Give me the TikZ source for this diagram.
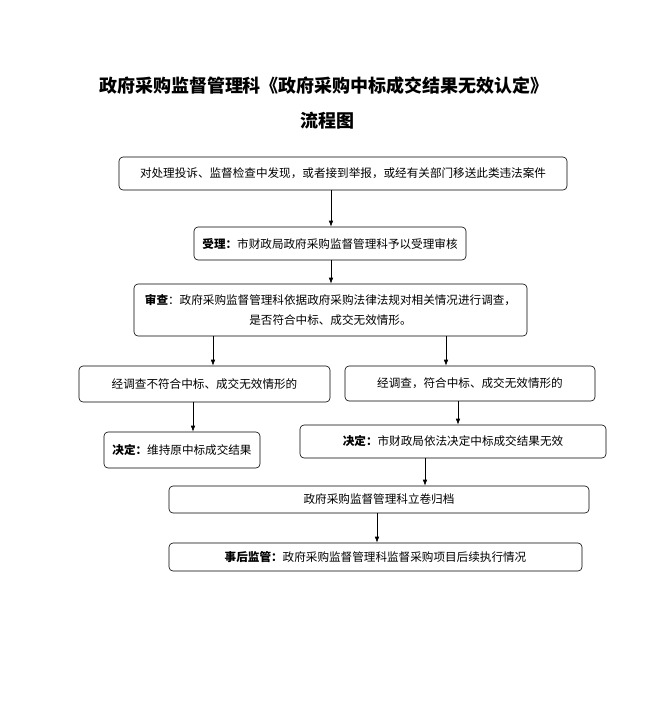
\documentclass[tikz,border=0pt]{standalone}
\usepackage{fontspec}
\setmainfont{Noto Sans CJK SC}
\usetikzlibrary{arrows.meta}
\begin{document}
\begin{tikzpicture}[x=1pt,y=-1pt,
  box/.style={draw,rounded corners=4pt,line width=0.6pt,inner sep=0pt,font=\fontsize{11.6}{20}\selectfont,align=center},
  arr/.style={-{Latex[length=6pt,width=4.5pt]},line width=0.6pt},
  ttl/.style={font=\fontsize{18}{20}\selectfont\bfseries}]
\useasboundingbox (0,0) rectangle (656,713);
\node[ttl] (t1) at (324,86) {政府采购监督管理科《政府采购中标成交结果无效认定》};
\node[ttl] (t2) at (327,121) {流程图};
\node[box,minimum width=448pt,minimum height=33pt] (b1) at (343,173.5) {对处理投诉、监督检查中发现，或者接到举报，或经有关部门移送此类违法案件};
\node[box,minimum width=272pt,minimum height=33pt] (b2) at (330,243.5) {\textbf{受理：}市财政局政府采购监督管理科予以受理审核};
\node[box,minimum width=393pt,minimum height=52pt] (b3) at (330.5,310) {\textbf{审查}：政府采购监督管理科依据政府采购法律法规对相关情况进行调查，\\是否符合中标、成交无效情形。};
\node[box,minimum width=251pt,minimum height=36pt] (b4) at (204.5,384) {经调查不符合中标、成交无效情形的};
\node[box,minimum width=250pt,minimum height=35pt] (b5) at (470,383.5) {经调查，符合中标、成交无效情形的};
\node[box,minimum width=156pt,minimum height=36pt] (b6) at (182,450) {\textbf{决定：}维持原中标成交结果};
\node[box,minimum width=306pt,minimum height=33pt] (b7) at (453,441.5) {\textbf{决定：}市财政局依法决定中标成交结果无效};
\node[box,minimum width=420pt,minimum height=27pt] (b8) at (379,499.5) {政府采购监督管理科立卷归档};
\node[box,minimum width=413pt,minimum height=28pt] (b9) at (375.5,557) {\textbf{事后监管：}政府采购监督管理科监督采购项目后续执行情况};
\coordinate (c1) at (331,0);
\coordinate (c2) at (213,0);
\coordinate (c3) at (446,0);
\coordinate (c4) at (193,0);
\coordinate (c5) at (458,0);
\coordinate (c6) at (425,0);
\coordinate (c7) at (377,0);
\draw[arr] (b1.south -| c1) -- (b2.north -| c1);
\draw[arr] (b2.south -| c1) -- (b3.north -| c1);
\draw[arr] (b3.south -| c2) -- (b4.north -| c2);
\draw[arr] (b3.south -| c3) -- (b5.north -| c3);
\draw[arr] (b4.south -| c4) -- (b6.north -| c4);
\draw[arr] (b5.south -| c5) -- (b7.north -| c5);
\draw[arr] (b7.south -| c6) -- (b8.north -| c6);
\draw[arr] (b8.south -| c7) -- (b9.north -| c7);
\end{tikzpicture}
\end{document}
